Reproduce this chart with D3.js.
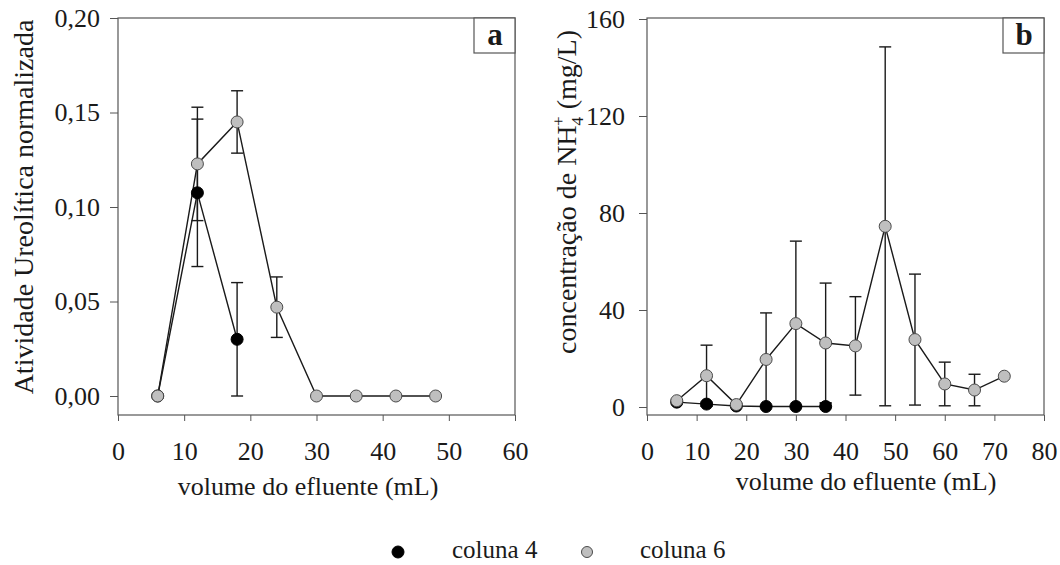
<!DOCTYPE html>
<html>
<head>
<meta charset="utf-8">
<script src="https://cdn.jsdelivr.net/npm/d3@7"></script>
<style>
  body { margin: 0; background: #fff; }
  text { font-family: "Liberation Serif", "Times New Roman", serif; fill: #1a1a1a; }
  .tick line, .domain { stroke: #555; }
</style>
</head>
<body>
<div id="container"></div>
<script>
// panel a - atividade ureolitica
let volA4 = [6, 12, 18];
let atvA4 = [0, 0.1075, 0.030];
let errA4 = [0, 0.039, 0.030];

let volA6 = [6, 12, 18, 24, 30, 36, 42, 48];
let atvA6 = [0, 0.1228, 0.145, 0.047, 0, 0, 0, 0];
let errA6 = [0, 0.030, 0.0165, 0.016, 0, 0, 0, 0];

// panel b - NH4+
let volB4 = [6, 12, 18, 24, 30, 36];
let nhB4 = [2.0, 1.2, 0.4, 0.2, 0.2, 0.2];
let errB4 = [0.6, 0.8, 0.3, 0.2, 0.2, 1.4];

let volB6 = [6, 12, 18, 24, 30, 36, 42, 48, 54, 60, 66, 72];
let nhB6 = [2.6, 12.9, 1.0, 19.6, 34.4, 26.4, 25.2, 74.5, 27.8, 9.5, 7.0, 12.7];
let errB6 = [0.5, 12.6, 0.5, 19.2, 34.0, 24.7, 20.3, 74.0, 27.0, 9.0, 6.5, 0];

let ticksXA = [0, 10, 20, 30, 40, 50, 60];
let ticksYA = [0, 0.05, 0.10, 0.15, 0.20];
let ticksXB = [0, 10, 20, 30, 40, 50, 60, 70, 80];
let ticksYB = [0, 40, 80, 120, 160];

let seriesNames = ["coluna 4", "coluna 6"];

let w = 1060;
let h = 565;

let svg = d3.select("#container").append("svg")
            .attr("width", w)
            .attr("height", h);

function zip(xs, ys, es) {
  return xs.map((x, i) => ({ x: x, y: ys[i], e: es[i] }));
}

function panel(opt) {
  let x = d3.scaleLinear().domain(opt.xDomain).range(opt.xRange);
  let y = d3.scaleLinear().domain(opt.yDomain).range(opt.yRange);
  let g = svg.append("g");

  // frame
  g.append("rect")
   .attr("x", opt.xRange[0]).attr("y", opt.top)
   .attr("width", opt.xRange[1] - opt.xRange[0])
   .attr("height", opt.bottom - opt.top)
   .attr("fill", "none").attr("stroke", "#555").attr("stroke-width", 1.2);

  let xAxis = d3.axisBottom(x).tickValues(opt.xTicks).tickSize(6).tickPadding(21)
                .tickFormat(d3.format("d"));
  let gx = g.append("g").attr("transform", "translate(0," + opt.bottom + ")").call(xAxis);
  gx.select(".domain").remove();
  gx.selectAll("text").style("font-size", "26px");

  let yAxis = d3.axisLeft(y).tickValues(opt.yTicks).tickSize(8).tickPadding(opt.yPad)
                .tickFormat(opt.yFormat);
  let gy = g.append("g").attr("transform", "translate(" + opt.xRange[0] + ",0)").call(yAxis);
  gy.select(".domain").remove();
  gy.selectAll("text").style("font-size", "26px");

  let line = d3.line().x(d => x(d.x)).y(d => y(d.y));
  let cap = 6;

  opt.series.forEach(s => {
    let eb = g.append("g");
    s.data.filter(d => d.e > 0).forEach(d => {
      let cx = x(d.x);
      let y0 = y(Math.max(0, d.y - d.e)), y1 = y(d.y + d.e);
      eb.append("line").attr("x1", cx).attr("x2", cx).attr("y1", y0).attr("y2", y1)
        .attr("stroke", "#1a1a1a").attr("stroke-width", 1.4);
      [y0, y1].forEach(yy => eb.append("line")
        .attr("x1", cx - cap).attr("x2", cx + cap).attr("y1", yy).attr("y2", yy)
        .attr("stroke", "#1a1a1a").attr("stroke-width", 1.4));
    });
  });

  opt.series.forEach(s => {
    g.append("path").datum(s.data).attr("d", line)
     .attr("fill", "none").attr("stroke", "#1a1a1a").attr("stroke-width", 1.4);
  });

  opt.series.forEach(s => {
    g.append("g").selectAll("circle").data(s.data).enter().append("circle")
     .attr("cx", d => x(d.x)).attr("cy", d => y(d.y)).attr("r", 6)
     .attr("fill", s.fill).attr("stroke", s.stroke).attr("stroke-width", 1);
  });

  // letter box
  let bx = opt.xRange[1] - 41;
  g.append("rect").attr("x", bx).attr("y", opt.top).attr("width", 41).attr("height", 35)
   .attr("fill", "#fff").attr("stroke", "#555").attr("stroke-width", 1.2);
  g.append("text").attr("x", bx + 21).attr("y", opt.top + 27)
   .attr("text-anchor", "middle").style("font-size", "31px").style("font-weight", "bold")
   .text(opt.letter);

  // x label
  g.append("text").attr("x", opt.xLabelX).attr("y", opt.xLabelY)
   .attr("text-anchor", "middle").style("font-size", "26px")
   .text("volume do efluente (mL)");
  return g;
}

let comma = d => d3.format(".2f")(d).replace(".", ",");

let gA = panel({
  xDomain: [0, 60], xRange: [118, 515],
  yDomain: [0, 0.2], yRange: [396, 18],
  top: 18, bottom: 415,
  xTicks: ticksXA, yTicks: ticksYA, yFormat: comma, yPad: 10,
  letter: "a", xLabelX: 308, xLabelY: 495,
  series: [
    { data: zip(volA4, atvA4, errA4), fill: "#000", stroke: "#000" },
    { data: zip(volA6, atvA6, errA6), fill: "#bfbfbf", stroke: "#4a4a4a" }
  ]
});

gA.append("text")
  .attr("transform", "translate(33,207) rotate(-90)")
  .attr("text-anchor", "middle").style("font-size", "28px")
  .text("Atividade Ureolítica normalizada");

let gB = panel({
  xDomain: [0, 80], xRange: [647, 1044],
  yDomain: [0, 160], yRange: [407, 19],
  top: 18, bottom: 415,
  xTicks: ticksXB, yTicks: ticksYB, yFormat: d3.format("d"), yPad: 14,
  letter: "b", xLabelX: 866, xLabelY: 490,
  series: [
    { data: zip(volB4, nhB4, errB4), fill: "#000", stroke: "#000" },
    { data: zip(volB6, nhB6, errB6), fill: "#bfbfbf", stroke: "#4a4a4a" }
  ]
});

let yl = gB.append("text")
  .attr("transform", "translate(576,192) rotate(-90)")
  .attr("text-anchor", "middle").style("font-size", "28px");
yl.append("tspan").text("concentração de  NH");
yl.append("tspan").attr("dy", 7).style("font-size", "17px").text("4");
yl.append("tspan").attr("dy", -19).attr("dx", -9).style("font-size", "17px").text("+");
yl.append("tspan").attr("dy", 12).text(" (mg/L)");

// legend
let legend = svg.append("g");
let legendItems = [
  { name: seriesNames[0], cx: 398, tx: 452, fill: "#000", stroke: "#000", r: 6 },
  { name: seriesNames[1], cx: 587, tx: 640, fill: "#bfbfbf", stroke: "#4a4a4a", r: 5.5 }
];
legendItems.forEach(d => {
  legend.append("circle").attr("cx", d.cx).attr("cy", 552).attr("r", d.r)
        .attr("fill", d.fill).attr("stroke", d.stroke);
  legend.append("text").attr("x", d.tx).attr("y", 558).style("font-size", "25px").text(d.name);
});
</script>
</body>
</html>
